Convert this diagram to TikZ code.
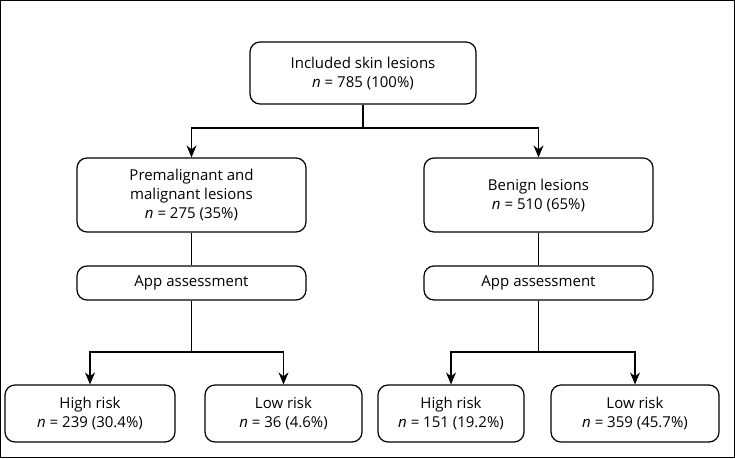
\documentclass[tikz,border=0pt]{standalone}
\usepackage{fontspec}
\setmainfont{Open Sans}
\usetikzlibrary{arrows.meta}
\begin{document}
\begin{tikzpicture}[x=1pt,y=-1pt,
  box/.style={draw,rounded corners=10pt,line width=1.2pt,align=center,font=\fontsize{15}{19}\selectfont,inner sep=0pt},
  arr/.style={line width=1.2pt,-{Stealth[length=12pt,width=10pt]}},
  ln/.style={line width=1.2pt}]
\draw[line width=0.8pt] (0.5,0.5) rectangle (734.5,457.5);
\useasboundingbox (0,0) rectangle (735,458);
\node[box,minimum width=226pt,minimum height=62pt] (top) at (363,73) {Included skin lesions\\\textit{n} = 785 (100\%)};
\node[box,minimum width=229pt,minimum height=74pt] (pm) at (191.5,195) {Premalignant and\\malignant lesions\\\textit{n} = 275 (35\%)};
\node[box,minimum width=229pt,minimum height=74pt] (bn) at (538.5,195) {Benign lesions\\\textit{n} = 510 (65\%)};
\node[box,minimum width=229pt,minimum height=34pt] (appl) at (191.5,283) {App assessment};
\node[box,minimum width=229pt,minimum height=34pt] (appr) at (538.5,283) {App assessment};
\node[box,minimum width=170pt,minimum height=57pt] (hl) at (90,413.5) {High risk\\\textit{n} = 239 (30.4\%)};
\node[box,minimum width=157pt,minimum height=57pt] (ll) at (283.5,413.5) {Low risk\\\textit{n} = 36 (4.6\%)};
\node[box,minimum width=146pt,minimum height=57pt] (hr) at (451,413.5) {High risk\\\textit{n} = 151 (19.2\%)};
\node[box,minimum width=168pt,minimum height=57pt] (lr) at (635,413.5) {Low risk\\\textit{n} = 359 (45.7\%)};
\coordinate (j0) at (363,128);
\coordinate (j1) at (191.5,352);
\coordinate (j2) at (538.5,352);
\draw[ln] (top.south) -- (j0);
\draw[arr] (j0) -| (pm.north);
\draw[arr] (j0) -| (bn.north);
\draw[ln] (pm.south) -- (appl.north);
\draw[ln] (bn.south) -- (appr.north);
\draw[ln] (appl.south) -- (j1);
\draw[ln] (appr.south) -- (j2);
\draw[arr] (j1) -| (hl.north);
\draw[arr] (j1) -| (ll.north);
\draw[arr] (j2) -| (hr.north);
\draw[arr] (j2) -| (lr.north);
\end{tikzpicture}
\end{document}
